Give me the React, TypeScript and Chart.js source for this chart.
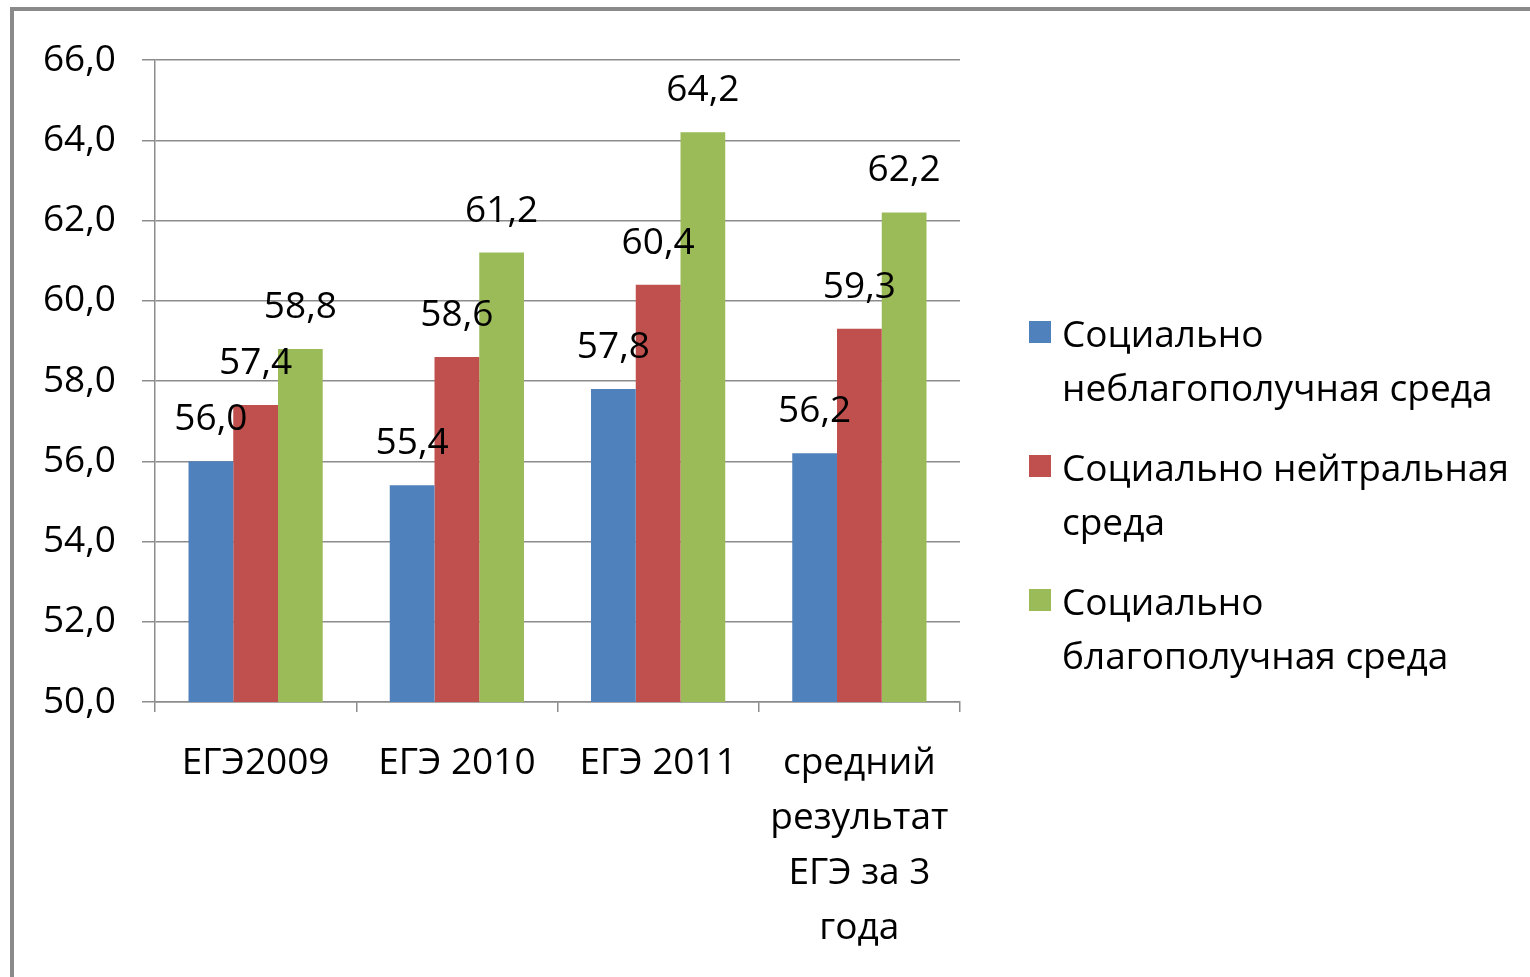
import React, { useEffect, useRef } from "react";
import { Chart, registerables } from "chart.js";

Chart.register(...registerables);

// ---- data ----
const categories: string[][] = [
  ["ЕГЭ2009"],
  ["ЕГЭ 2010"],
  ["ЕГЭ 2011"],
  ["средний", "результат", "ЕГЭ за 3", "года"],
];
const seriesNames: string[] = [
  "Социально неблагополучная среда",
  "Социально нейтральная среда",
  "Социально благополучная среда",
];
const legendLines: string[][] = [
  ["Социально", "неблагополучная среда"],
  ["Социально нейтральная", "среда"],
  ["Социально", "благополучная среда"],
];
const unfavorable: number[] = [56.0, 55.4, 57.8, 56.2];
const neutral: number[] = [57.4, 58.6, 60.4, 59.3];
const favorable: number[] = [58.8, 61.2, 64.2, 62.2];
const yMin = 50;
const yMax = 66;
const yStep = 2;

const colors = ["#4F81BD", "#C0504D", "#9BBB59"];
const FONT = '"Open Sans", "Noto Sans", sans-serif';
const FONT_SIZE = 37;
const GRID = "#8c8c8c";

const fmt = (v: number) => Number(v).toFixed(1).replace(".", ",");

const valueLabels = {
  id: "valueLabels",
  afterDatasetsDraw(chart: any) {
    const ctx = chart.ctx;
    ctx.save();
    ctx.font = `${FONT_SIZE}px ${FONT}`;
    ctx.fillStyle = "#000";
    ctx.textAlign = "center";
    ctx.textBaseline = "alphabetic";
    chart.data.datasets.forEach((ds: any, i: number) => {
      const meta = chart.getDatasetMeta(i);
      meta.data.forEach((bar: any, j: number) => {
        ctx.fillText(fmt(ds.data[j]), bar.x, bar.y - 31);
      });
    });
    ctx.restore();
  },
};

const sideLegend = {
  id: "sideLegend",
  afterDraw(chart: any) {
    const ctx = chart.ctx;
    const area = chart.chartArea;
    const x0 = area.right + 69;
    const firstBaseline = 347;
    const itemGap = 134;
    const lineGap = 54;
    ctx.save();
    ctx.font = `${FONT_SIZE}px ${FONT}`;
    ctx.textAlign = "left";
    ctx.textBaseline = "alphabetic";
    chart.data.datasets.forEach((ds: any, i: number) => {
      const base = firstBaseline + i * itemGap;
      ctx.fillStyle = ds.backgroundColor;
      ctx.fillRect(x0, base - 26, 22, 22);
      ctx.fillStyle = "#000";
      legendLines[i].forEach((line, k) => {
        ctx.fillText(line, x0 + 33, base + k * lineGap);
      });
    });
    ctx.restore();
  },
};

export default function App() {
  const canvasRef = useRef<HTMLCanvasElement | null>(null);

  useEffect(() => {
    if (!canvasRef.current) return;
    const chart = new Chart(canvasRef.current, {
      type: "bar",
      data: {
        labels: categories,
        datasets: [
          { label: seriesNames[0], data: unfavorable, backgroundColor: colors[0] },
          { label: seriesNames[1], data: neutral, backgroundColor: colors[1] },
          { label: seriesNames[2], data: favorable, backgroundColor: colors[2] },
        ],
      },
      options: {
        responsive: false,
        animation: false,
        datasets: {
          bar: { categoryPercentage: 0.667, barPercentage: 1.0 },
        },
        layout: { padding: { top: 60, right: 570, left: 0, bottom: 0 } },
        plugins: {
          legend: { display: false },
          tooltip: { enabled: false },
        },
        scales: {
          x: {
            grid: {
              display: true,
              drawOnChartArea: false,
              drawTicks: true,
              tickLength: 10,
              color: GRID,
              lineWidth: 1.5,
              offset: true,
            },
            border: { display: true, color: GRID, width: 1.5 },
            ticks: {
              color: "#000",
              font: { family: FONT, size: FONT_SIZE, lineHeight: "55px" },
              padding: 24,
              maxRotation: 0,
              autoSkip: false,
            },
            afterFit: (s: any) => {
              s.height = 275;
            },
          },
          y: {
            min: yMin,
            max: yMax,
            ticks: {
              stepSize: yStep,
              callback: (v: any) => fmt(v),
              color: "#000",
              font: { family: FONT, size: FONT_SIZE },
              padding: 26,
            },
            grid: { color: GRID, lineWidth: 1.5, tickLength: 13 },
            border: { display: true, color: GRID, width: 1.5 },
            afterFit: (s: any) => {
              s.width = 155;
            },
          },
        },
      },
      plugins: [valueLabels, sideLegend],
    } as any);
    return () => chart.destroy();
  }, []);

  return (
    <div
      style={{
        position: "fixed",
        left: 0,
        top: 0,
        width: 1530,
        height: 977,
        overflow: "hidden",
        background: "#fff",
      }}
    >
      <div
        style={{
          position: "absolute",
          left: 10,
          top: 7,
          width: 1600,
          height: 1100,
          borderLeft: "4px solid #8a8a8a",
          borderTop: "4px solid #8a8a8a",
        }}
      />
      <canvas
        ref={canvasRef}
        width={1530}
        height={977}
        style={{ position: "absolute", left: 0, top: 0, display: "block" }}
      />
    </div>
  );
}
